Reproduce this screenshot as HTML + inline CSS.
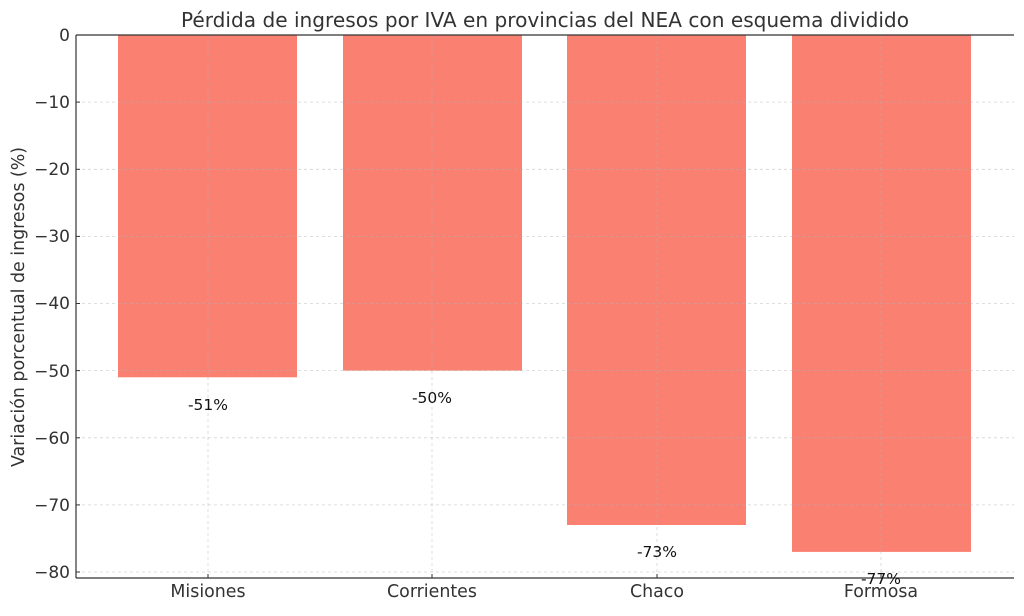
<!DOCTYPE html>
<html><head><meta charset="utf-8"><style>body{margin:0;background:#fff}</style></head>
<body>
<svg width="1024" height="611" xmlns="http://www.w3.org/2000/svg" font-family="DejaVu Sans, Liberation Sans, sans-serif">
<rect width="1024" height="611" fill="#fff"/>
<g fill="#FA8072">
<rect x="118" y="35" width="179" height="342.3"/>
<rect x="343" y="35" width="179" height="335.6"/>
<rect x="567" y="35" width="179" height="490"/>
<rect x="792" y="35" width="179" height="516.9"/>
</g>
<g stroke="#b0b0b0" stroke-opacity="0.55" stroke-dasharray="3,3" stroke-width="0.8">
<line x1="76" x2="1014" y1="102.1" y2="102.1"/><line x1="76" x2="1014" y1="169.3" y2="169.3"/>
<line x1="76" x2="1014" y1="236.4" y2="236.4"/><line x1="76" x2="1014" y1="303.5" y2="303.5"/>
<line x1="76" x2="1014" y1="370.6" y2="370.6"/><line x1="76" x2="1014" y1="437.8" y2="437.8"/>
<line x1="76" x2="1014" y1="504.9" y2="504.9"/><line x1="76" x2="1014" y1="572" y2="572"/>
<line x1="208" x2="208" y1="35" y2="578"/><line x1="432" x2="432" y1="35" y2="578"/>
<line x1="657" x2="657" y1="35" y2="578"/><line x1="881" x2="881" y1="35" y2="578"/>
</g>
<g stroke="#333" stroke-width="1.2">
<line x1="76" x2="1014" y1="35" y2="35"/>
<line x1="76" x2="76" y1="35" y2="578"/>
<line x1="76" x2="1014" y1="578" y2="578"/>
</g>
<g stroke="#333" stroke-width="1">
<line x1="76" x2="80" y1="35" y2="35"/><line x1="76" x2="80" y1="102.1" y2="102.1"/><line x1="76" x2="80" y1="169.3" y2="169.3"/><line x1="76" x2="80" y1="236.4" y2="236.4"/><line x1="76" x2="80" y1="303.5" y2="303.5"/><line x1="76" x2="80" y1="370.6" y2="370.6"/><line x1="76" x2="80" y1="437.8" y2="437.8"/><line x1="76" x2="80" y1="504.9" y2="504.9"/><line x1="76" x2="80" y1="572" y2="572"/>
<line x1="208" x2="208" y1="578" y2="574"/><line x1="432" x2="432" y1="578" y2="574"/><line x1="657" x2="657" y1="578" y2="574"/><line x1="881" x2="881" y1="578" y2="574"/>
</g>
<g font-size="17" fill="#333" text-anchor="end">
<text x="70" y="41">0</text><text x="70" y="108">−10</text><text x="70" y="175">−20</text><text x="70" y="242">−30</text><text x="70" y="309">−40</text><text x="70" y="377">−50</text><text x="70" y="444">−60</text><text x="70" y="511">−70</text><text x="70" y="578">−80</text>
</g>
<g font-size="17.4" fill="#333" text-anchor="middle">
<text x="208" y="597">Misiones</text><text x="432" y="597">Corrientes</text><text x="657" y="597">Chaco</text><text x="881" y="597">Formosa</text>
</g>
<g font-size="15.5" fill="#111" text-anchor="middle">
<text x="208" y="410">-51%</text><text x="432" y="403">-50%</text><text x="657" y="557">-73%</text><text x="881" y="584">-77%</text>
</g>
<text x="545" y="27" font-size="20.1" fill="#333" text-anchor="middle">Pérdida de ingresos por IVA en provincias del NEA con esquema dividido</text>
<text transform="translate(24,307) rotate(-90)" font-size="17.4" fill="#333" text-anchor="middle">Variación porcentual de ingresos (%)</text>
</svg>
</body></html>
